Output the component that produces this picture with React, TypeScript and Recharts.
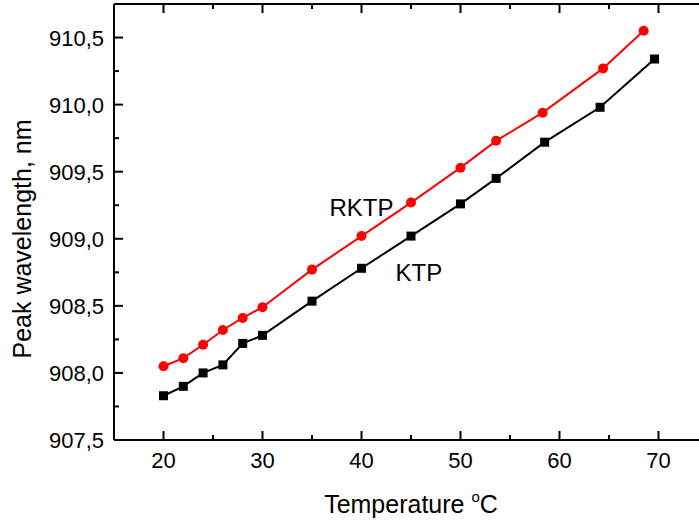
import { ComposedChart, Line, XAxis, YAxis, ReferenceDot, Label } from 'recharts'

const ktpTemp = [20, 22, 24, 26, 28, 30, 35, 40, 45, 50, 53.6, 58.5, 64.1, 69.6]
const ktpPeak = [907.83, 907.9, 908.0, 908.06, 908.22, 908.28, 908.535, 908.78, 909.02, 909.26, 909.45, 909.72, 909.98, 910.34]

const rktpTemp = [20, 22, 24, 26, 28, 30, 35, 40, 45, 50, 53.6, 58.3, 64.4, 68.5]
const rktpPeak = [908.05, 908.11, 908.21, 908.32, 908.41, 908.49, 908.77, 909.02, 909.27, 909.53, 909.73, 909.94, 910.27, 910.55]

const xTicks = [15, 20, 25, 30, 35, 40, 45, 50, 55, 60, 65, 70, 75]
const yTicks = [907.5, 907.75, 908, 908.25, 908.5, 908.75, 909, 909.25, 909.5, 909.75, 910, 910.25, 910.5]

const FONT = '"Liberation Sans", Arial, sans-serif'

const ktpData = ktpTemp.map((t, i) => ({ t, v: ktpPeak[i] }))
const rktpData = rktpTemp.map((t, i) => ({ t, v: rktpPeak[i] }))

const isMajorX = (v: number) => v % 10 === 0
const isMajorY = (v: number) => Number.isInteger(v * 2)

const BottomTick = ({ x, y, payload }: any) => {
  const major = isMajorX(payload.value)
  return (
    <g>
      <line x1={x} x2={x} y1={y} y2={y - (major ? 9 : 5)} stroke="#000" strokeWidth={2} />
      {major && payload.value > 15 && payload.value < 75 && (
        <text x={x} y={y + 28} textAnchor="middle" fontSize={22} fontFamily={FONT} fill="#000">
          {payload.value}
        </text>
      )}
    </g>
  )
}

const TopTick = ({ x, y, payload }: any) => {
  const major = isMajorX(payload.value)
  return <line x1={x} x2={x} y1={y} y2={y + (major ? 9 : 5)} stroke="#000" strokeWidth={2} />
}

const LeftTick = ({ x, y, payload }: any) => {
  const major = isMajorY(payload.value)
  return (
    <g>
      <line x1={x} x2={x + (major ? 9 : 5)} y1={y} y2={y} stroke="#000" strokeWidth={2} />
      {major && (
        <text x={x - 10} y={y + 8} textAnchor="end" fontSize={22} fontFamily={FONT} fill="#000">
          {payload.value.toFixed(1).replace('.', ',')}
        </text>
      )}
    </g>
  )
}

const RightTick = ({ x, y, payload }: any) => {
  const major = isMajorY(payload.value)
  return <line x1={x} x2={x - (major ? 9 : 5)} y1={y} y2={y} stroke="#000" strokeWidth={2} />
}

const SquareDot = (props: any) => {
  const { cx, cy, index } = props
  return <rect key={`sq-${index}`} x={cx - 4.5} y={cy - 4.5} width={9} height={9} fill="#000" />
}

const XTitle = ({ viewBox }: any) => (
  <text x={viewBox.x + viewBox.width / 2} y={viewBox.y + 73} textAnchor="middle" fontSize={25} fontFamily={FONT} fill="#000">
    <tspan>Temperature </tspan>
    <tspan fontSize={15} dy={-11}>o</tspan>
    <tspan dy={11}>C</tspan>
  </text>
)

const YTitle = ({ viewBox }: any) => {
  const cy = viewBox.y + 235
  return (
    <text x={31} y={cy} transform={`rotate(-90 31 ${cy})`} textAnchor="middle" fontSize={25} fontFamily={FONT} fill="#000">
      Peak wavelength, nm
    </text>
  )
}

export default function App() {
  return (
    <div style={{ position: 'absolute', left: 0, top: 0, width: 699, height: 525, overflow: 'hidden', background: '#fff' }}>
      <ComposedChart width={720} height={525} margin={{ top: 0, right: 0, bottom: 0, left: 0 }}>
        <XAxis
          xAxisId="b"
          type="number"
          dataKey="t"
          domain={[15, 75]}
          ticks={xTicks}
          interval={0}
          height={85}
          tickSize={0}
          tickMargin={0}
          tickLine={false}
          tick={<BottomTick />}
          axisLine={{ stroke: '#000', strokeWidth: 2 }}
          allowDataOverflow
        >
          <Label content={<XTitle />} />
        </XAxis>
        <XAxis
          xAxisId="top"
          orientation="top"
          type="number"
          dataKey="t"
          domain={[15, 75]}
          ticks={xTicks}
          interval={0}
          height={4}
          tickSize={0}
          tickMargin={0}
          tickLine={false}
          tick={<TopTick />}
          axisLine={{ stroke: '#000', strokeWidth: 2 }}
          allowDataOverflow
        />
        <YAxis
          yAxisId="l"
          type="number"
          domain={[907.5, 910.75]}
          ticks={yTicks}
          interval={0}
          width={114}
          tickSize={0}
          tickMargin={0}
          tickLine={false}
          tick={<LeftTick />}
          axisLine={{ stroke: '#000', strokeWidth: 2 }}
          allowDataOverflow
        >
          <Label content={<YTitle />} />
        </YAxis>
        <YAxis
          yAxisId="r"
          orientation="right"
          type="number"
          domain={[907.5, 910.75]}
          ticks={yTicks}
          interval={0}
          width={12}
          tickSize={0}
          tickMargin={0}
          tickLine={false}
          tick={<RightTick />}
          axisLine={{ stroke: '#000', strokeWidth: 2 }}
          allowDataOverflow
        />
        <Line
          xAxisId="b"
          yAxisId="l"
          data={ktpData}
          dataKey="v"
          type="linear"
          stroke="#000"
          strokeWidth={2}
          dot={SquareDot}
          activeDot={false}
          isAnimationActive={false}
        />
        <Line
          xAxisId="b"
          yAxisId="l"
          data={rktpData}
          dataKey="v"
          type="linear"
          stroke="#ff0000"
          strokeWidth={2}
          dot={{ r: 5, fill: '#ff0000', stroke: '#ff0000', strokeWidth: 0 }}
          activeDot={false}
          isAnimationActive={false}
        />
        <ReferenceDot
          xAxisId="b"
          yAxisId="l"
          x={40}
          y={909.23}
          r={0}
          fill="none"
          stroke="none"
          label={{ value: 'RKTP', position: 'center', fontSize: 24, fontFamily: FONT, fill: '#000' }}
        />
        <ReferenceDot
          xAxisId="b"
          yAxisId="l"
          x={45.8}
          y={908.75}
          r={0}
          fill="none"
          stroke="none"
          label={{ value: 'KTP', position: 'center', fontSize: 24, fontFamily: FONT, fill: '#000' }}
        />
      </ComposedChart>
    </div>
  )
}
